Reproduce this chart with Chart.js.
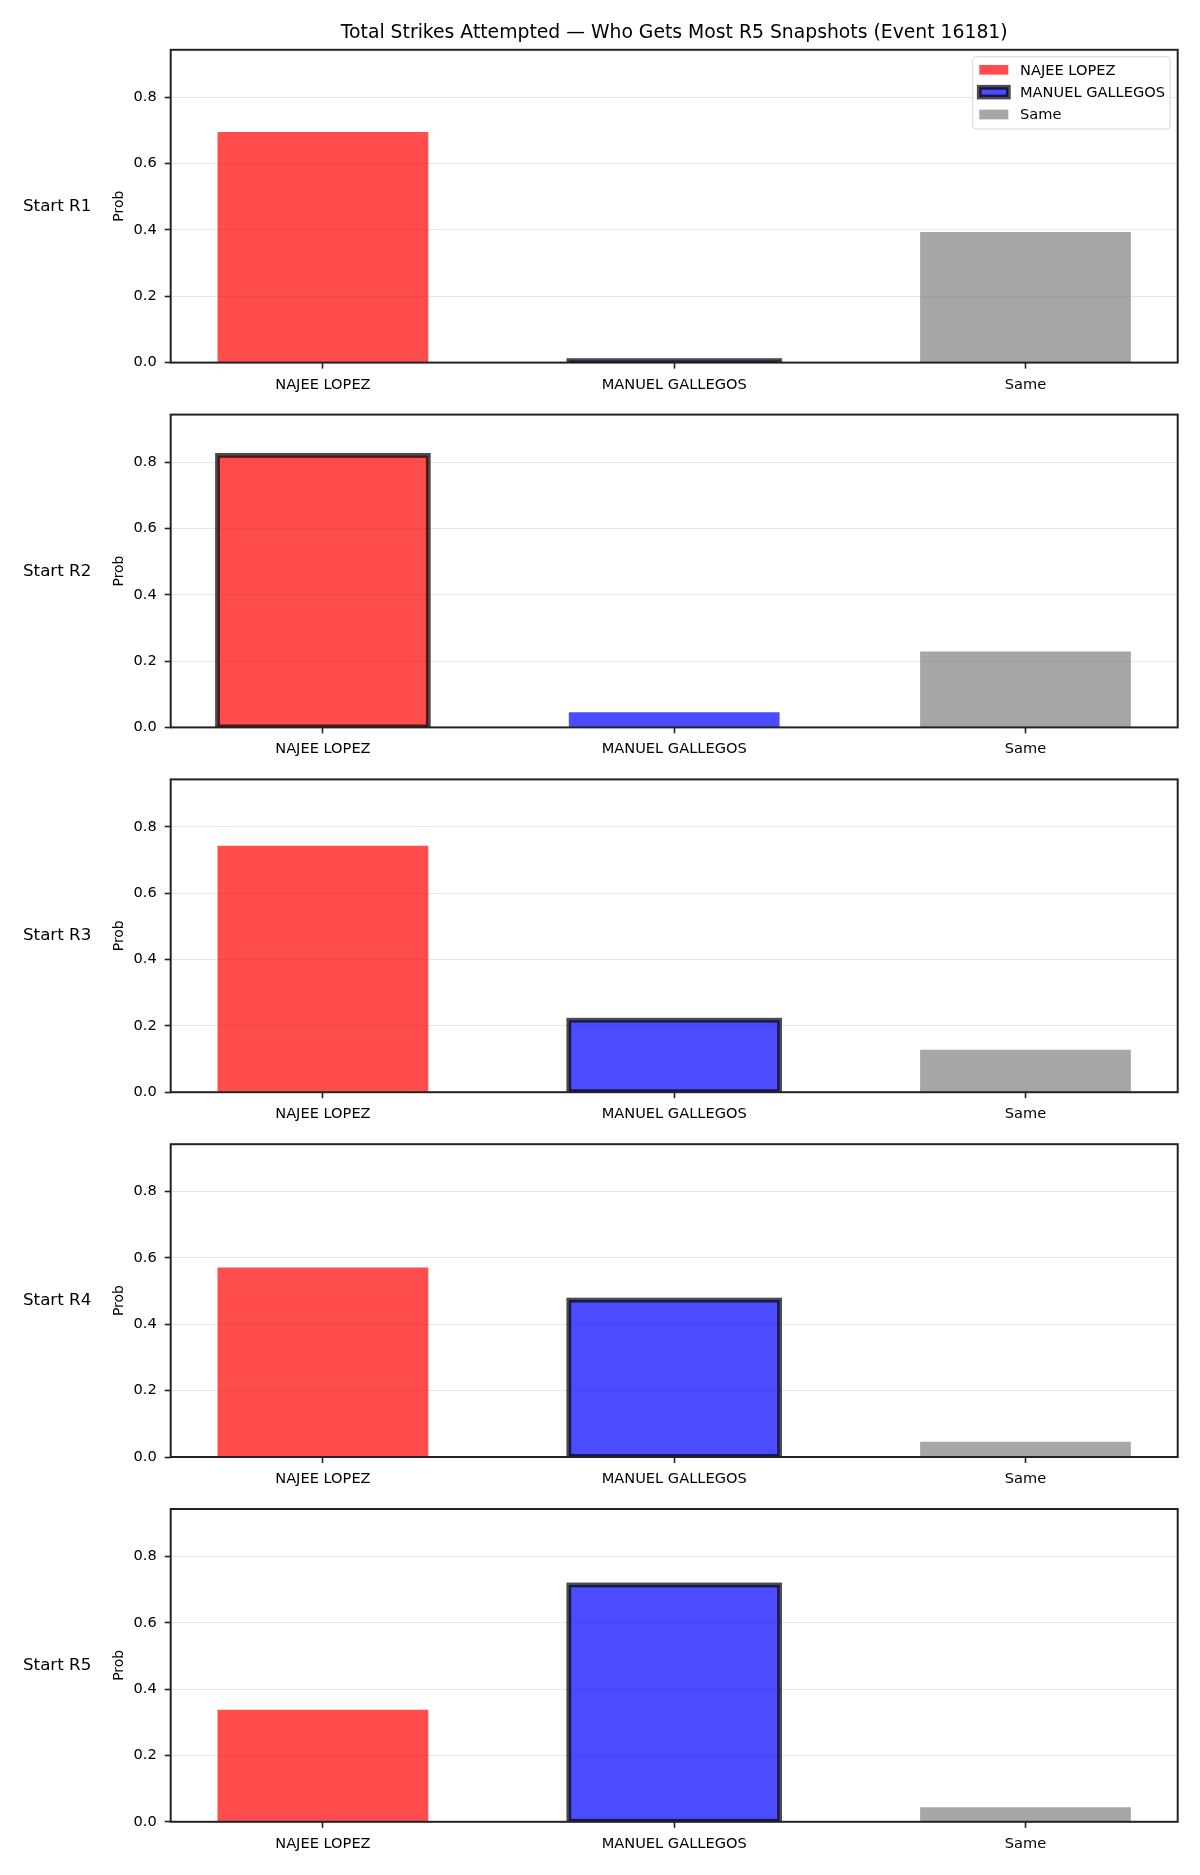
<!DOCTYPE html>
<html>
<head>
<meta charset="utf-8">
<title>Total Strikes Attempted</title>
<script src="https://cdn.jsdelivr.net/npm/chart.js@4.4.1/dist/chart.umd.min.js"></script>
<style>
    body { margin: 0; background: #ffffff; }
    #wrap { position: relative; width: 1200px; height: 1875px; }
    #wrap canvas { position: absolute; left: 0; }
</style>
</head>
<body>
<div id="wrap"></div>
<script>
// Data
const categories = ["NAJEE LOPEZ", "MANUEL GALLEGOS", "Same"];
const rounds = ["Start R1", "Start R2", "Start R3", "Start R4", "Start R5"];
const najeeLopez = [0.695, 0.82, 0.743, 0.571, 0.338];
const manuelGallegos = [0.006, 0.046, 0.217, 0.473, 0.714];
const same = [0.394, 0.229, 0.128, 0.046, 0.044];
const highlighted = [1, 0, 1, 1, 1]; // bar with the dark edge in each panel
const yTicks = [0, 0.2, 0.4, 0.6, 0.8];

const series = [najeeLopez, manuelGallegos, same];
const barColors = ["rgba(255,0,0,0.7)", "rgba(0,0,255,0.7)", "rgba(128,128,128,0.7)"];
const edgeColor = "rgba(0,0,0,0.7)";
const edgeWidth = 4.8;
const yMax = Math.max(...najeeLopez, ...manuelGallegos, ...same) * 1.15;

// Layout (page pixels)
const panelPitch = 364.8;
const plotTop = 49.8, plotBottom = 362.6, plotLeft = 170.7, plotRight = 1177.7;
const canvasH = 420;
const FONT = "'DejaVu Sans', sans-serif";

// dark edge on the highlighted bar, centred on the bar outline like matplotlib
const edgePlugin = {
    id: "edge",
    afterDatasetsDraw(chart, args, opts) {
        const ctx = chart.ctx, area = chart.chartArea;
        const bar = chart.getDatasetMeta(0).data[opts.index];
        if (!bar) return;
        ctx.save();
        ctx.beginPath();
        ctx.rect(area.left, area.top, area.right - area.left, area.bottom - area.top);
        ctx.clip();
        ctx.strokeStyle = edgeColor;
        ctx.lineWidth = edgeWidth;
        ctx.strokeRect(bar.x - bar.width / 2, bar.y, bar.width, bar.base - bar.y);
        ctx.restore();
    }
};

// full box spines + side texts, title and legend
const decoPlugin = {
    id: "deco",
    afterDraw(chart, args, opts) {
        const ctx = chart.ctx, a = chart.chartArea;
        const midY = (a.top + a.bottom) / 2;
        ctx.save();
        ctx.strokeStyle = "#222";
        ctx.lineWidth = 2;
        ctx.strokeRect(a.left, a.top, a.right - a.left, a.bottom - a.top);

        ctx.fillStyle = "#000";
        ctx.font = "16.7px " + FONT;
        ctx.textAlign = "left";
        ctx.textBaseline = "alphabetic";
        ctx.fillText(opts.rowLabel, 23, midY + 4.5);

        ctx.save();
        ctx.font = "13.9px " + FONT;
        ctx.translate(122.5, midY);
        ctx.rotate(-Math.PI / 2);
        ctx.textAlign = "center";
        ctx.fillText("Prob", 0, 0);
        ctx.restore();

        if (opts.first) {
            ctx.font = "18.8px " + FONT;
            ctx.textAlign = "center";
            ctx.fillText("Total Strikes Attempted \u2014 Who Gets Most R5 Snapshots (Event 16181)", (a.left + a.right) / 2, 37.5);

            // legend box
            ctx.beginPath();
            ctx.roundRect(972.7, 56.7, 197.3, 72.3, 3);
            ctx.fillStyle = "rgba(255,255,255,0.8)";
            ctx.fill();
            ctx.strokeStyle = "rgba(204,204,204,0.8)";
            ctx.lineWidth = 1;
            ctx.stroke();

            ctx.font = "14.6px " + FONT;
            ctx.textAlign = "left";
            ctx.textBaseline = "middle";
            categories.forEach((name, i) => {
                const ry = 69.8 + i * 22.35;
                ctx.fillStyle = barColors[i];
                ctx.fillRect(979.3, ry - 4.85, 29, 9.7);
                if (i === highlighted[0]) {
                    ctx.strokeStyle = edgeColor;
                    ctx.lineWidth = edgeWidth;
                    ctx.strokeRect(979.3, ry - 4.85, 29, 9.7);
                }
                ctx.fillStyle = "#000";
                ctx.fillText(name, 1020, ry + 1);
            });
        }
        ctx.restore();
    }
};

const wrap = document.getElementById("wrap");

rounds.forEach((rowLabel, k) => {
    const top = Math.floor(k * panelPitch);
    const shift = k * panelPitch - top;
    const canvas = document.createElement("canvas");
    canvas.width = 1200;
    canvas.height = canvasH;
    canvas.style.top = top + "px";
    wrap.appendChild(canvas);

    new Chart(canvas, {
        type: "bar",
        data: {
            datasets: [{
                data: categories.map((c, i) => ({ x: i, y: series[i][k] })),
                backgroundColor: barColors,
                borderWidth: 0,
                barPercentage: 0.6,
                categoryPercentage: 1
            }]
        },
        options: {
            responsive: false,
            animation: false,
            devicePixelRatio: 1,
            layout: { padding: { top: plotTop + shift, right: 1200 - plotRight, left: 0, bottom: 0 } },
            plugins: {
                legend: { display: false },
                tooltip: { enabled: false },
                edge: { index: highlighted[k] },
                deco: { rowLabel: rowLabel, first: k === 0 }
            },
            scales: {
                x: {
                    type: "linear",
                    offset: false,
                    min: -0.4333,
                    max: 2.4333,
                    afterBuildTicks: (s) => { s.ticks = categories.map((c, i) => ({ value: i })); },
                    afterFit: (s) => { s.height = canvasH - (plotBottom + shift); },
                    ticks: {
                        callback: (v) => categories[v],
                        color: "#000",
                        font: { family: FONT, size: 14.6 },
                        padding: 7.5,
                        autoSkip: false,
                        maxRotation: 0
                    },
                    grid: { offset: false, drawOnChartArea: false, tickLength: 6, tickColor: "#222", tickWidth: 1.6 },
                    border: { display: false }
                },
                y: {
                    min: 0,
                    max: yMax,
                    afterBuildTicks: (s) => { s.ticks = yTicks.map((v) => ({ value: v })); },
                    afterFit: (s) => { s.width = plotLeft; },
                    ticks: {
                        callback: (v) => v.toFixed(1),
                        color: "#000",
                        font: { family: FONT, size: 14.6 },
                        padding: 8
                    },
                    grid: { color: "#e6e6e6", lineWidth: 1, tickLength: 6, tickColor: "#222", tickWidth: 1.6 },
                    border: { display: false }
                }
            }
        },
        plugins: [edgePlugin, decoPlugin]
    });
});
</script>
</body>
</html>
